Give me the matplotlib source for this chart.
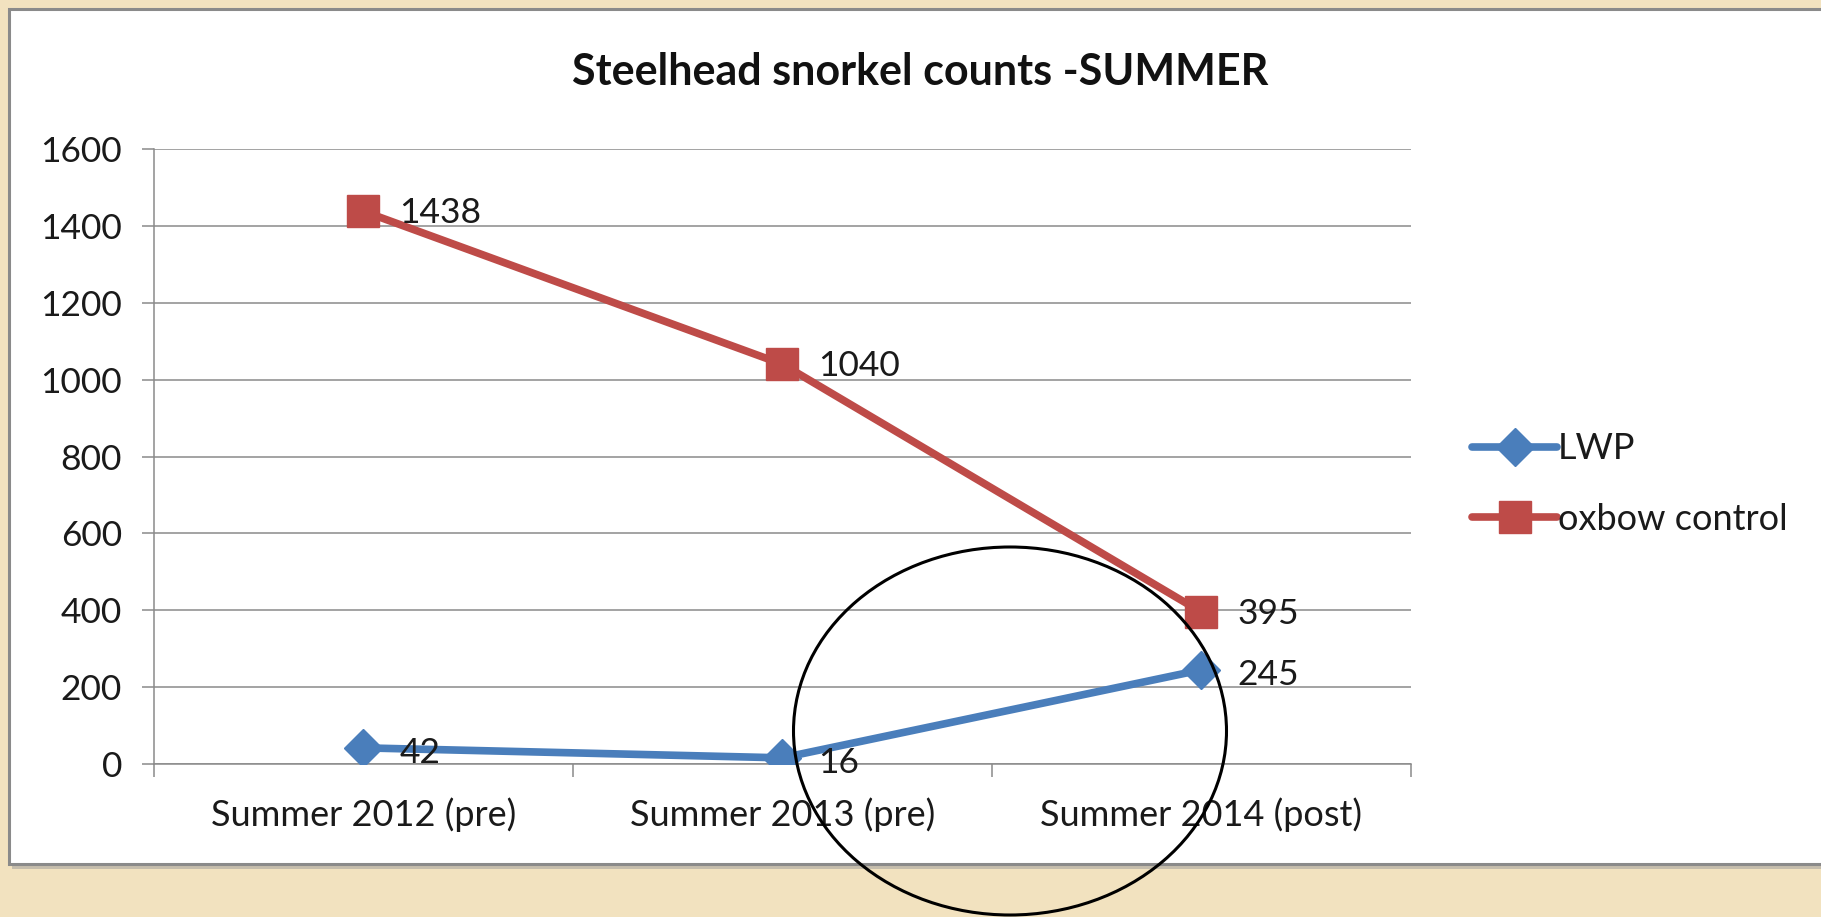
import matplotlib
matplotlib.use('Agg')
import matplotlib.pyplot as plt
from matplotlib.patches import Rectangle, Ellipse

# data
categories = ['Summer 2012 (pre)', 'Summer 2013 (pre)', 'Summer 2014 (post)']
lwp = [42, 16, 245]
oxbow = [1438, 1040, 395]
yticks = [0, 200, 400, 600, 800, 1000, 1200, 1400, 1600]

W, H = 1821, 917
plt.rcParams['font.family'] = ['Lato', 'DejaVu Sans']

fig = plt.figure(figsize=(W / 100, H / 100), dpi=100)
fig.patch.set_facecolor('#F2E2BF')

# white chart box (runs off the right edge) with a gray border and soft shadow
fig.add_artist(Rectangle((12 / W, 1 - 869 / H), 1.0, (869 - 12) / H, transform=fig.transFigure,
                         facecolor='#9a9a9a', edgecolor='none', alpha=0.5, zorder=0))
fig.add_artist(Rectangle((9 / W, 1 - 864 / H), 1.0, (864 - 9) / H, transform=fig.transFigure,
                         facecolor='white', edgecolor='#8a8a8a', linewidth=2.2, zorder=0.5))

ax = fig.add_axes([154 / W, 1 - 764 / H, (1411 - 154) / W, (764 - 149) / H])
ax.set_zorder(2)
ax.set_facecolor('none')
x = list(range(len(categories)))

blue = '#4A7EBB'
red = '#BE4B48'
ax.plot(x, lwp, color=blue, lw=5.5, marker='D', markersize=19, label='LWP', zorder=3,
        solid_capstyle='round')
ax.plot(x, oxbow, color=red, lw=5.5, marker='s', markersize=23, label='oxbow control', zorder=3,
        solid_capstyle='round')

for xi, v in zip(x, lwp):
    ax.annotate(str(v), (xi, v), xytext=(26, -4), textcoords='offset points',
                va='center', ha='left', fontsize=25.5, color='#1a1a1a', zorder=4)
for xi, v in zip(x, oxbow):
    ax.annotate(str(v), (xi, v), xytext=(26, -1), textcoords='offset points',
                va='center', ha='left', fontsize=25.5, color='#1a1a1a', zorder=4)

ax.set_xlim(-0.5, 2.5)
ax.set_ylim(0, 1600)
ax.set_yticks(yticks)
ax.set_yticklabels([str(t) for t in yticks])
ax.grid(axis='y', color='#8a8a8a', lw=1.1)
ax.set_axisbelow(True)

ax.set_xticks([-0.5, 0.5, 1.5, 2.5])
ax.set_xticklabels([])
ax.set_xticks(x, minor=True)
ax.set_xticklabels(categories, minor=True)
ax.tick_params(axis='x', which='major', length=9, color='#8a8a8a', width=1.1)
ax.tick_params(axis='x', which='minor', length=0, pad=24, labelsize=26, labelcolor='#1a1a1a')
ax.tick_params(axis='y', length=9, color='#8a8a8a', width=1.1, pad=14, labelsize=25.5,
               labelcolor='#1a1a1a')

for s in ['top', 'right']:
    ax.spines[s].set_visible(False)
for s in ['left', 'bottom']:
    ax.spines[s].set_color('#8a8a8a')
    ax.spines[s].set_linewidth(1.1)

fig.text(920 / W, 1 - 72 / H, 'Steelhead snorkel counts -SUMMER', ha='center', va='center',
         fontsize=31, fontweight='bold', color='#111111')

leg = ax.legend(loc='center left', bbox_to_anchor=(1458 / W, 1 - 484 / H),
                bbox_transform=fig.transFigure, frameon=False, fontsize=26,
                handlelength=2.35, handletextpad=0.02, labelspacing=1.03, borderaxespad=0)
for t in leg.get_texts():
    t.set_color('#1a1a1a')

# hand-drawn circle around the post-treatment change
fig.add_artist(Ellipse((1010 / W, 1 - 731 / H), 433 / W, 368 / H, transform=fig.transFigure,
                       facecolor='none', edgecolor='black', linewidth=2.2, zorder=10))

fig.savefig('out.png', dpi=100, facecolor=fig.get_facecolor())
